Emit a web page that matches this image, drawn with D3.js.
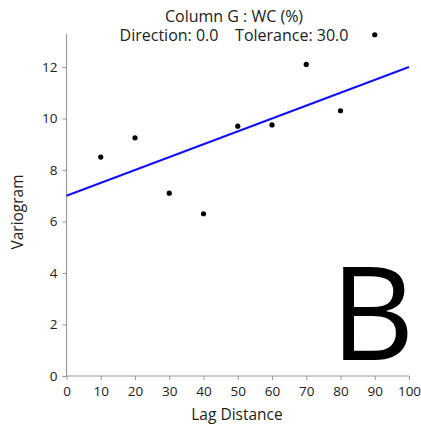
<!DOCTYPE html>
<html>
<head>
<meta charset="utf-8">
<script src="https://cdn.jsdelivr.net/npm/d3@7"></script>
<style>
  body { margin: 0; background: #fff; }
  svg text { font-family: "Open Sans", "Noto Sans", sans-serif; fill: #222; }
</style>
</head>
<body>
<svg id="chart" width="421" height="426"></svg>
<script>
// lag distances and variogram values
var lags = [10, 20, 30, 40, 50, 60, 70, 80, 90];
var variogram = [8.5, 9.25, 7.1, 6.3, 9.7, 9.75, 12.1, 10.3, 13.25];
// fitted linear model end points
var fitLags = [0, 100];
var fitValues = [7.0, 12.0];
var xTicks = [0, 10, 20, 30, 40, 50, 60, 70, 80, 90, 100];
var yTicks = [0, 2, 4, 6, 8, 10, 12];
var titleLines = ["Column G : WC (%)", "Direction: 0.0    Tolerance: 30.0"];

var svg = d3.select("#chart");
var margin = { top: 34, right: 12, bottom: 50, left: 66.5 },
    width = 421 - margin.left - margin.right,
    height = 376 - margin.top;

var g = svg.append("g")
    .attr("transform", "translate(" + margin.left + "," + margin.top + ")");

var x = d3.scaleLinear().domain([0, 100]).range([0, 342.5]);
var y = d3.scaleLinear().domain([0, 13.28]).range([height, 0]);

// axes
var xAxis = g.append("g")
    .attr("transform", "translate(0," + height + ")")
    .call(d3.axisBottom(x).tickValues(xTicks).tickSize(4).tickPadding(6));
var yAxis = g.append("g")
    .call(d3.axisLeft(y).tickValues(yTicks).tickSize(4).tickPadding(5));
[xAxis, yAxis].forEach(function (a) {
    a.select(".domain").attr("stroke", "#999").attr("stroke-width", 1.2);
    a.selectAll(".tick line").attr("stroke", "#999");
    a.selectAll(".tick text").style("font-size", "13.5px").attr("fill", "#222");
});
// no end caps on the axis lines
yAxis.select(".domain").attr("d", "M0," + height + "V0");
xAxis.select(".domain").attr("d", "M0,0H" + x(100));

// big letter
g.append("text")
    .attr("x", 306)
    .attr("y", 326)
    .attr("text-anchor", "middle")
    .style("font-size", "130px")
    .style("fill", "#000")
    .text("B");

// fitted line
var line = d3.line()
    .x(function (d) { return x(d[0]); })
    .y(function (d) { return y(d[1]); });
g.append("path")
    .datum(d3.zip(fitLags, fitValues))
    .attr("d", line)
    .attr("fill", "none")
    .attr("stroke", "#1010ff")
    .attr("stroke-width", 2);

// points
g.selectAll("circle")
    .data(d3.zip(lags, variogram))
    .enter()
    .append("circle")
    .attr("cx", function (d) { return x(d[0]); })
    .attr("cy", function (d) { return y(d[1]); })
    .attr("r", 2.6)
    .attr("fill", "#000");

// titles
svg.selectAll(".title")
    .data(titleLines)
    .enter()
    .append("text")
    .attr("class", "title")
    .attr("x", 234)
    .attr("y", function (d, i) { return 22 + i * 19; })
    .attr("text-anchor", "middle")
    .style("font-size", "16px")
    .style("white-space", "pre")
    .text(function (d) { return d; });

svg.append("text")
    .attr("x", 237)
    .attr("y", 420)
    .attr("text-anchor", "middle")
    .style("font-size", "15.5px")
    .text("Lag Distance");

svg.append("text")
    .attr("transform", "translate(23,212) rotate(-90)")
    .attr("text-anchor", "middle")
    .style("font-size", "15.5px")
    .text("Variogram");
</script>
</body>
</html>
